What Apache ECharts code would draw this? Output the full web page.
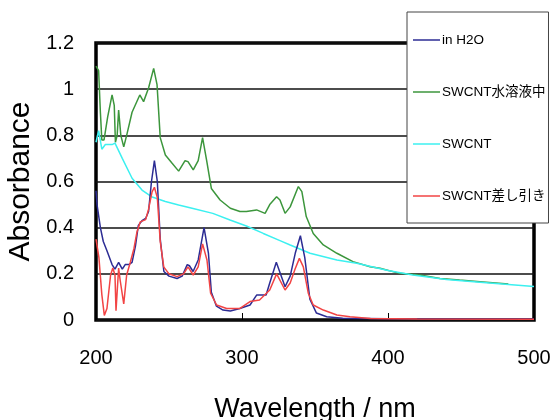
<!DOCTYPE html>
<html>
<head>
<meta charset="utf-8">
<script src="https://cdn.jsdelivr.net/npm/echarts@6/dist/echarts.min.js"></script>
<style>
  html, body { margin: 0; padding: 0; background: #fff; }
  #echarts { width: 555px; height: 420px; }
</style>
</head>
<body>
<div id="echarts"></div>
<script>
var seriesNames = ['in H2O', 'SWCNT水溶液中', 'SWCNT', 'SWCNT差し引き'];
var xTicks = [200, 300, 400, 500];
var yTicks = [0, 0.2, 0.4, 0.6, 0.8, 1, 1.2];

// in H2O
var h2oWl  = [200, 200.7, 203, 205, 207.5, 211, 213, 215.5, 218, 220, 222.5, 224.7, 227, 229, 231.5, 234, 236, 238, 240, 242, 244, 246.5, 250, 255.5, 259, 262.5, 264, 266.5, 270, 274, 277, 279, 282.5, 287, 292, 298.5, 305.5, 310, 316.5, 319, 323.5, 329.5, 333, 336.5, 340, 343, 346.5, 351, 358, 369, 400, 500];
var h2oAbs = [0.56, 0.50, 0.40, 0.34, 0.30, 0.24, 0.22, 0.25, 0.22, 0.24, 0.24, 0.25, 0.32, 0.41, 0.43, 0.44, 0.47, 0.60, 0.69, 0.60, 0.35, 0.21, 0.19, 0.18, 0.19, 0.24, 0.235, 0.21, 0.26, 0.40, 0.29, 0.12, 0.06, 0.043, 0.039, 0.05, 0.065, 0.108, 0.108, 0.16, 0.25, 0.144, 0.19, 0.29, 0.365, 0.27, 0.09, 0.03, 0.014, 0.008, 0.005, 0.004];

// SWCNT水溶液中
var solWl  = [200, 201.8, 203, 204, 205.5, 208, 211, 212.5, 213.3, 214.5, 215.5, 217, 219, 221, 224.7, 230, 232.6, 236, 239.5, 241.8, 244, 247.5, 252, 256.6, 261, 263, 266.6, 270, 273, 275.8, 279, 285, 292, 298.6, 303, 310, 315.8, 319, 323.7, 326, 329.5, 333, 338.6, 341, 344, 348.8, 355.7, 365, 376, 387.7, 394.5, 408, 422, 435.6, 449, 463, 482.4];
var solAbs = [1.10, 1.08, 0.90, 0.78, 0.78, 0.88, 0.975, 0.93, 0.77, 0.80, 0.91, 0.80, 0.75, 0.80, 0.90, 0.975, 0.946, 1.005, 1.09, 1.02, 0.79, 0.715, 0.68, 0.645, 0.69, 0.686, 0.65, 0.69, 0.79, 0.69, 0.57, 0.52, 0.484, 0.47, 0.47, 0.477, 0.462, 0.50, 0.534, 0.52, 0.462, 0.49, 0.578, 0.556, 0.448, 0.375, 0.325, 0.289, 0.253, 0.231, 0.224, 0.202, 0.195, 0.18, 0.173, 0.166, 0.156];

// SWCNT
var cntWl  = [200, 201.8, 204, 206.4, 211, 213, 218, 224.7, 231.5, 238, 247.5, 256.6, 265.8, 280, 291.8, 303, 314.6, 326, 333, 346.6, 365, 378.6, 400, 417, 440, 463, 500];
var cntAbs = [0.77, 0.82, 0.74, 0.76, 0.76, 0.766, 0.70, 0.614, 0.563, 0.534, 0.513, 0.498, 0.484, 0.462, 0.433, 0.407, 0.375, 0.344, 0.325, 0.289, 0.26, 0.246, 0.214, 0.195, 0.175, 0.164, 0.145];

// SWCNT差し引き
var subWl  = [200, 202, 204, 205.7, 207.5, 210, 211.5, 213, 213.7, 215.5, 216.6, 219, 221, 223.5, 226, 228, 230.3, 234, 236, 238.4, 240, 242, 244, 246.4, 250, 255.5, 260, 263, 266.6, 270, 273, 276, 278.5, 282.6, 289.5, 298.6, 305.5, 312, 319, 323.7, 329.5, 333, 336.3, 339.3, 342, 345.4, 348.8, 355.7, 365, 374, 388, 420, 500];
var subAbs = [0.35, 0.27, 0.11, 0.02, 0.05, 0.195, 0.225, 0.195, 0.04, 0.225, 0.17, 0.07, 0.195, 0.25, 0.31, 0.38, 0.425, 0.435, 0.48, 0.555, 0.575, 0.53, 0.34, 0.23, 0.20, 0.188, 0.20, 0.23, 0.195, 0.23, 0.33, 0.26, 0.116, 0.065, 0.05, 0.05, 0.08, 0.087, 0.13, 0.20, 0.13, 0.16, 0.22, 0.267, 0.23, 0.116, 0.065, 0.043, 0.022, 0.014, 0.007, 0.004, 0.003];

var colors = ['#2c2c94', '#3c963c', '#3cf0f0', '#f24444'];

function pairs(xs, ys) {
	return xs.map(function (x, i) { return [x, ys[i]]; });
}

var myChart = echarts.init(document.getElementById('echarts'), null, {renderer: 'canvas'});
var fontLatin = 'Liberation Sans, Arial, Noto Sans CJK JP, sans-serif';

var option = {
	animation: false,
	backgroundColor: '#fff',
	color: colors,
	grid: {
		show: true,
		left: 96,
		top: 43,
		right: 21,
		bottom: 100,
		outerBoundsMode: 'none',   // keep the plot box fixed
		borderColor: '#000',
		borderWidth: 3.5,
		backgroundColor: '#fff'
	},
	legend: {
		data: seriesNames,
		orient: 'vertical',
		left: 407,
		top: 12,
		icon: 'rect',   // plain line, no marker
		itemWidth: 27,
		itemHeight: 1.5,
		itemGap: 38,
		padding: [21, 3, 20, 6],
		backgroundColor: '#fff',
		borderColor: '#444',
		borderWidth: 1,
		textStyle: {
			color: '#000',
			fontSize: 13.5,
			lineHeight: 14,
			fontFamily: fontLatin,
			padding: [0, 0, 0, -3]
		},
		z: 10
	},
	xAxis: {
		type: 'value',
		min: xTicks[0],
		max: xTicks[xTicks.length - 1],
		interval: 100,
		name: 'Wavelength / nm',
		nameLocation: 'middle',
		nameGap: 76,
		nameTextStyle: { color: '#000', fontSize: 27, fontFamily: fontLatin },
		axisLine: { show: false },
		axisTick: { show: true, inside: true, length: 7, lineStyle: { color: '#000', width: 1 } },
		axisLabel: { color: '#000', fontSize: 20, margin: 28, fontFamily: fontLatin },
		splitLine: { show: false }
	},
	yAxis: {
		type: 'value',
		min: yTicks[0],
		max: yTicks[yTicks.length - 1],
		interval: 0.2,
		name: 'Absorbance',
		nameLocation: 'middle',
		nameGap: 57,
		nameRotate: 90,
		nameTextStyle: { color: '#000', fontSize: 30, fontFamily: fontLatin },
		axisLine: { show: false },
		axisTick: { show: false },
		axisLabel: { color: '#000', fontSize: 20, margin: 22, fontFamily: fontLatin },
		splitLine: { show: true, lineStyle: { color: '#111', width: 1.5 } }
	},
	series: [
		{
			name: seriesNames[0], type: 'line', symbol: 'none', z: 3,
			lineStyle: { width: 1.5, color: colors[0] },
			data: pairs(h2oWl, h2oAbs)
		},
		{
			name: seriesNames[1], type: 'line', symbol: 'none', z: 2,
			lineStyle: { width: 1.5, color: colors[1] },
			data: pairs(solWl, solAbs)
		},
		{
			name: seriesNames[2], type: 'line', symbol: 'none', z: 2,
			lineStyle: { width: 1.5, color: colors[2] },
			data: pairs(cntWl, cntAbs)
		},
		{
			name: seriesNames[3], type: 'line', symbol: 'none', z: 4,
			lineStyle: { width: 1.5, color: colors[3] },
			data: pairs(subWl, subAbs)
		}
	]
};
myChart.setOption(option);
</script>
</body>
</html>
